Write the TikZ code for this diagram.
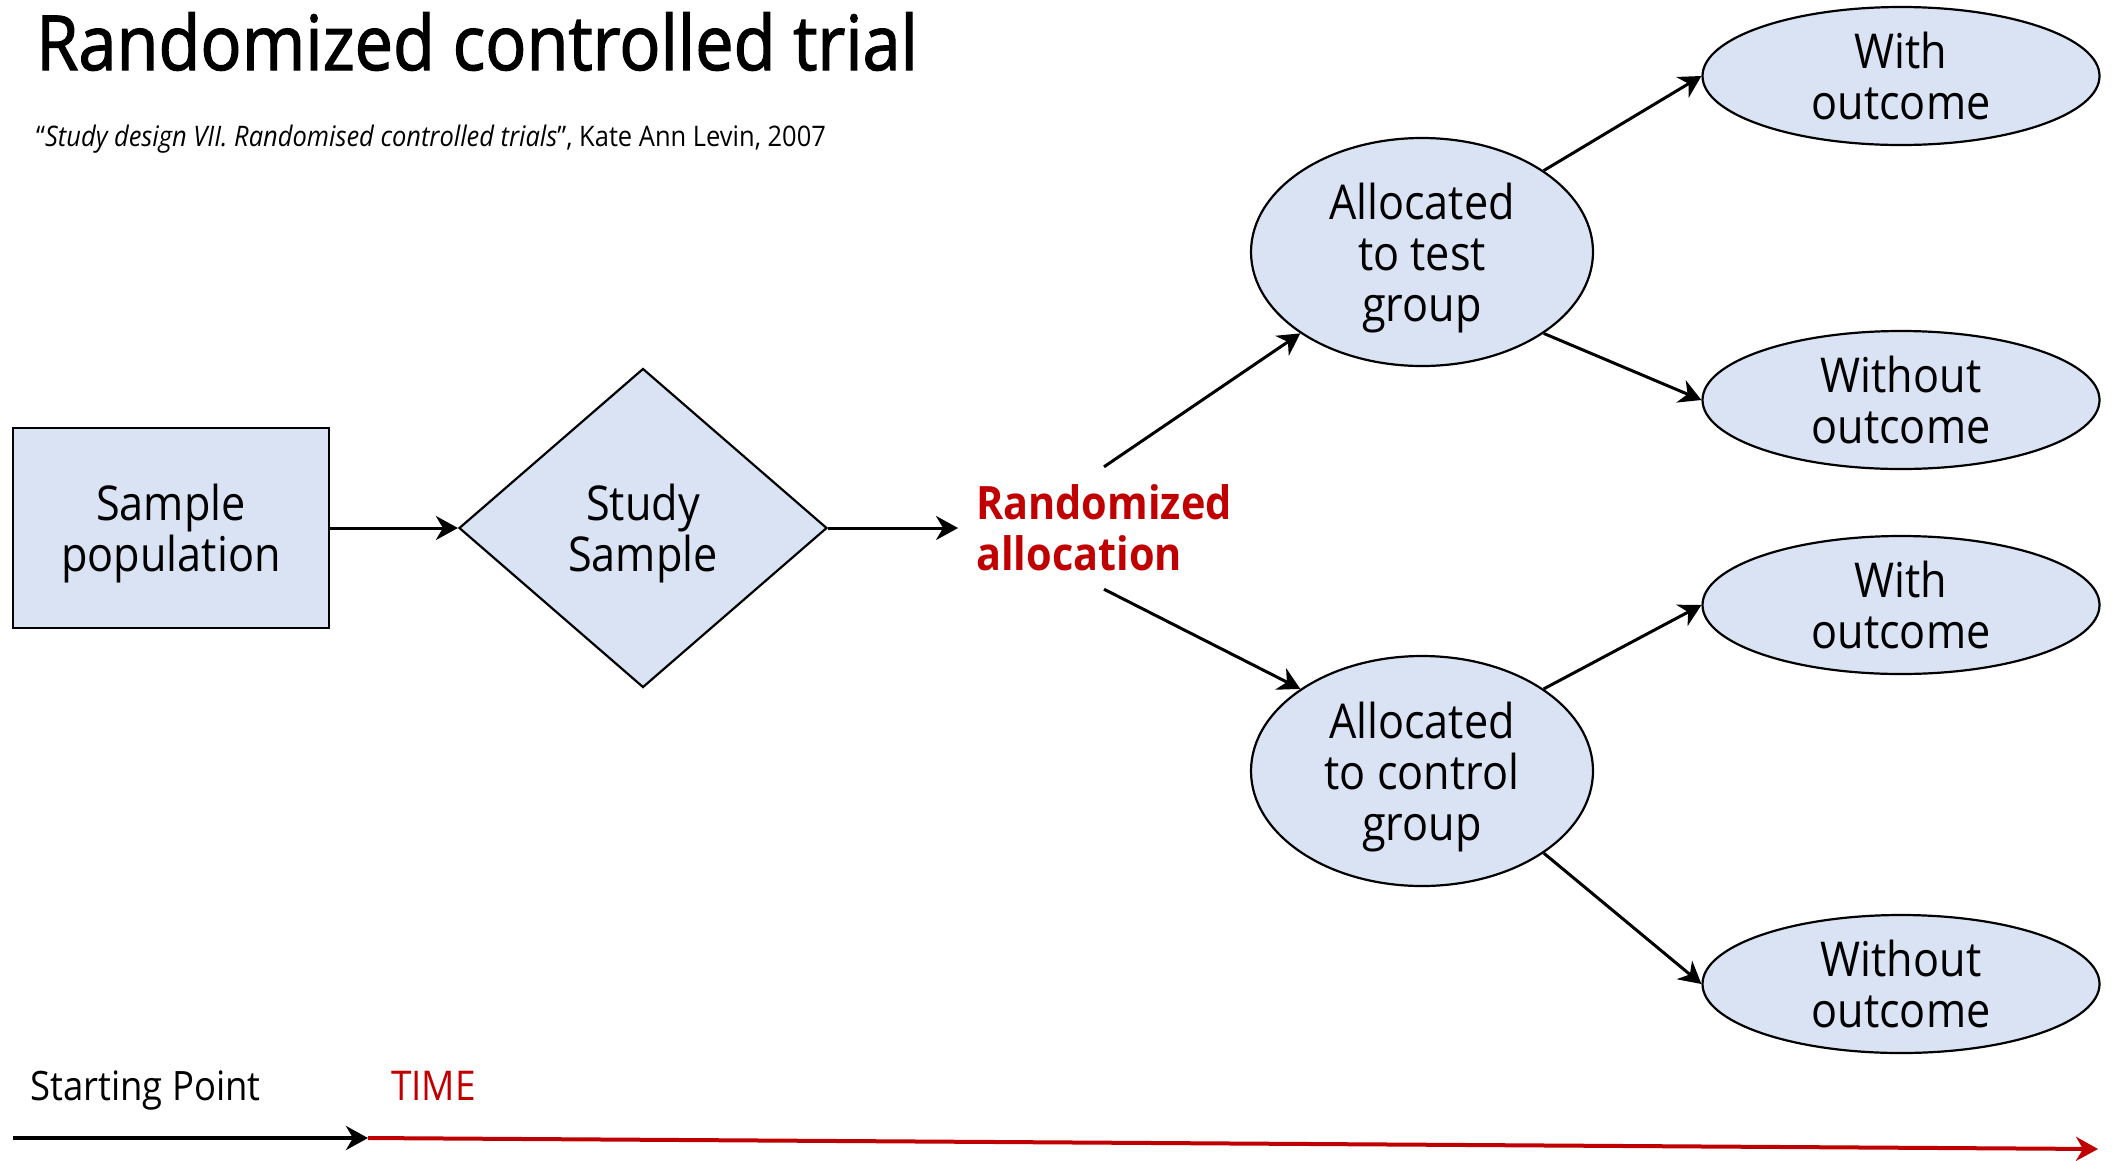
\documentclass[tikz,border=0pt]{standalone}
\usepackage{fontspec}
\setmainfont{Open Sans}[FakeStretch=0.9]
\newfontfamily\headingfont{Open Sans}[FakeStretch=0.9, FakeBold=1.6]
\usetikzlibrary{shapes.geometric,arrows.meta}
\definecolor{boxfill}{HTML}{DAE3F3}
\definecolor{trialred}{HTML}{C00000}
\tikzset{
  shapeline/.style={draw=black, line width=2.2pt, fill=boxfill, inner sep=0pt, align=center,
    text depth=0pt, font=\fontsize{48}{51}\selectfont},
  ellnode/.style={shapeline, ellipse},
  flow/.style={line width=3pt, -{Stealth[length=22pt,width=24pt,inset=7pt]}},
  label/.style={inner sep=0pt, anchor=base west},
}
\begin{document}
\begin{tikzpicture}[x=1pt, y=-1pt]
\useasboundingbox (0,0) rectangle (2116,1160);

% headings
\node[label, font=\headingfont\fontsize{76}{80}\selectfont] (title) at (36,70) {Randomized controlled trial};
\node[label, font=\fontsize{28.3}{32}\selectfont] (source) at (36,146)
  {``\textit{Study design VII. Randomised controlled trials}'', Kate Ann Levin, 2007};

% flow from population to allocation
\node[shapeline, rectangle, minimum width=316pt, minimum height=200pt] (pop) at (171,528) {Sample\\population};
\node[shapeline, diamond, minimum width=368pt, minimum height=319pt] (study) at (643,528) {Study\\Sample};
\node[inner xsep=18pt, inner ysep=0pt, minimum height=122pt, align=left, text=trialred,
  font=\fontsize{46}{51}\selectfont\bfseries] (rand) at (1104,528) {Randomized\\allocation};

% groups
\node[ellnode, minimum width=342pt, minimum height=228pt] (test) at (1422,252) {Allocated\\to test\\group};
\node[ellnode, minimum width=342pt, minimum height=230pt] (ctrl) at (1422,771) {Allocated\\to control\\group};

% outcomes
\node[ellnode, minimum width=397pt, minimum height=138pt] (o1) at (1901,76) {With\\outcome};
\node[ellnode, minimum width=397pt, minimum height=138pt] (o2) at (1901,400) {Without\\outcome};
\node[ellnode, minimum width=397pt, minimum height=138pt] (o3) at (1901,605) {With\\outcome};
\node[ellnode, minimum width=397pt, minimum height=138pt] (o4) at (1901,984) {Without\\outcome};

\draw[flow] (pop.east) -- (study.west);
\draw[flow] (study.east) -- (rand.west);
\draw[flow] (rand.north) -- (test.south west);
\draw[flow] (rand.south) -- (ctrl.north west);
\draw[flow] (test.north east) -- (o1.west);
\draw[flow] (test.south east) -- (o2.west);
\draw[flow] (ctrl.north east) -- (o3.west);
\draw[flow] (ctrl.south east) -- (o4.west);

% time axis
\node[label, font=\fontsize{40.5}{44}\selectfont] (start) at (30,1100) {Starting Point};
\node[label, font=\fontsize{41}{44}\selectfont, text=trialred] (time) at (391,1100) {TIME};
\coordinate (t0) at (13,1138);
\coordinate (t1) at (368,1138);
\coordinate (t2) at (2098,1149);
\draw[line width=4pt, -{Stealth[length=22pt,width=24pt,inset=7pt]}] (t0) -- (t1);
\draw[line width=4pt, color=trialred, -{Stealth[length=22pt,width=24pt,inset=7pt]}] (t1) -- (t2);
\end{tikzpicture}
\end{document}
